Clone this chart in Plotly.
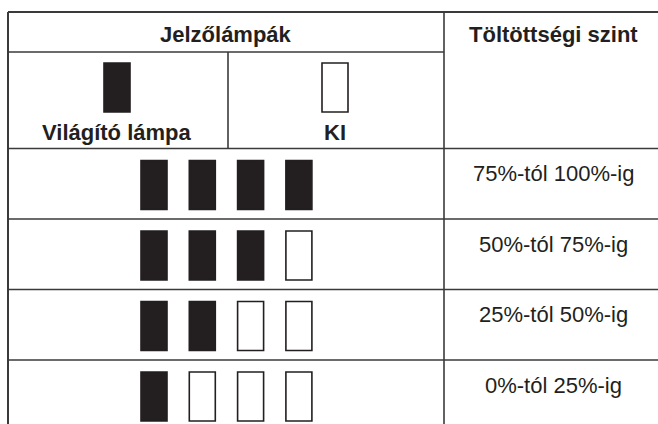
import plotly.graph_objects as go

# ---- data ----
header_group = "Jelzőlámpák"
header_level = "Töltöttségi szint"
legend_labels = ["Világító lámpa", "KI"]
legend_on = [True, False]
levels = ["75%-tól 100%-ig", "50%-tól 75%-ig", "25%-tól 50%-ig", "0%-tól 25%-ig"]
lit_counts = [4, 3, 2, 1]
n_lamps = 4

# ---- layout constants (pixel-like axis units) ----
W, H = 658, 424
INK = "#231f20"
LINE = "#3a3a3a"
FONT = "Liberation Sans, Arial, sans-serif"
x_left, x_mid, x_split, x_right = 8, 228, 444, 662
y_top, y_hdr1, y_hdr2 = 12, 52, 148.5
row_h = 70.5
lamp_w, lamp_h, lamp_gap = 26, 49, 48.3
lamp_x0 = 141
lamp_dy = 12
legend_x = [117, 335]
FS = 22

fig = go.Figure()
shapes = []
annotations = []

def line(x0, y0, x1, y1, w=1.6):
    shapes.append(dict(type="line", xref="x", yref="y", x0=x0, y0=y0, x1=x1, y1=y1,
                       line=dict(color=LINE, width=w)))

def lamp(xc, yt, on):
    shapes.append(dict(type="rect", xref="x", yref="y",
                       x0=xc - lamp_w / 2, x1=xc + lamp_w / 2, y0=yt, y1=yt + lamp_h,
                       line=dict(color=INK, width=1.6),
                       fillcolor=INK if on else "white"))

def text(x, y, s, bold=False, size=FS):
    annotations.append(dict(x=x, y=y, xref="x", yref="y", text=f"<b>{s}</b>" if bold else s,
                            showarrow=False, xanchor="center", yanchor="middle",
                            font=dict(family=FONT, size=size, color=INK)))

# table grid
line(x_left, y_top, x_right, y_top, 2)
line(x_left, y_top, x_left, H + 10, 2)
line(x_split, y_top, x_split, H + 10)
line(x_left, y_hdr1, x_split, y_hdr1)
line(x_mid, y_hdr1, x_mid, y_hdr2)
line(x_left, y_hdr2, x_right, y_hdr2)
for i in range(1, len(levels) + 1):
    line(x_left, y_hdr2 + i * row_h, x_right, y_hdr2 + i * row_h)

# headers
text((x_left + x_split) / 2, 34, header_group, bold=True)
text(553.5, 34, header_level, bold=True)

# legend row
for cx, lab, on in zip(legend_x, legend_labels, legend_on):
    lamp(cx, 63, on)
    text(cx, 132.5, lab, bold=True)

# level rows
for i, (lab, n_on) in enumerate(zip(levels, lit_counts)):
    ry = y_hdr2 + i * row_h
    for k in range(n_lamps):
        lamp(lamp_x0 + lamp_w / 2 + k * lamp_gap, ry + lamp_dy, k < n_on)
    text(553.5, ry + 25, lab, bold=False)

fig.update_layout(
    width=W, height=H, margin=dict(l=0, r=0, t=0, b=0),
    paper_bgcolor="white", plot_bgcolor="white",
    xaxis=dict(range=[0, W], visible=False, fixedrange=True),
    yaxis=dict(range=[H, 0], visible=False, fixedrange=True),
    shapes=shapes, annotations=annotations, showlegend=False,
)
fig.write_html("out.html", config={"displayModeBar": False},
               post_script="document.body.style.margin='0';document.body.style.overflow='hidden';")
